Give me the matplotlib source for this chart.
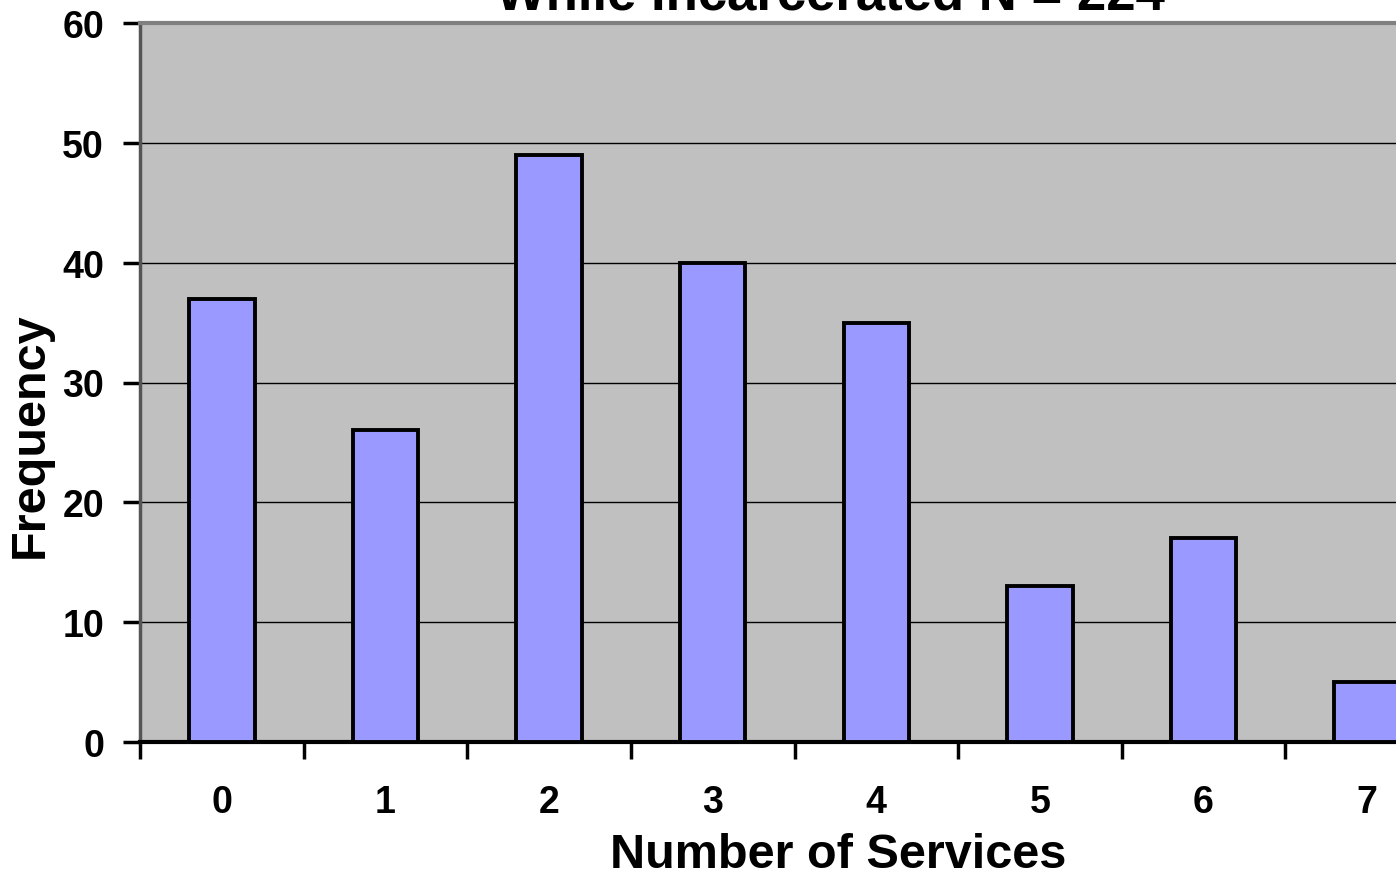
import matplotlib
matplotlib.use("Agg")
import matplotlib.pyplot as plt

categories = [0, 1, 2, 3, 4, 5, 6, 7]
frequency = [37, 26, 49, 40, 35, 13, 17, 5]
y_ticks = [0, 10, 20, 30, 40, 50, 60]
title = 'While Incarcerated N = 224'
x_label = 'Number of Services'
y_label = 'Frequency'

plt.rcParams['font.family'] = ['Liberation Sans', 'DejaVu Sans']

W, H = 1396, 878
fig = plt.figure(figsize=(W / 100, H / 100), dpi=100)
fig.patch.set_facecolor('white')
ax = fig.add_axes([140 / W, 1 - 743 / H, 1309 / W, (743 - 24) / H])
ax.set_facecolor('#C0C0C0')

ax.bar(categories, frequency, width=0.4, color='#9999FF',
       edgecolor='black', linewidth=2.8, zorder=3)

ax.set_xlim(-0.5, 7.5)
ax.set_ylim(0, 60)
ax.set_yticks(y_ticks)
ax.yaxis.grid(True, color='black', linewidth=1.0, zorder=1)
ax.set_axisbelow(True)

# category labels sit between boundary ticks
ax.set_xticks([c - 0.5 for c in categories] + [7.5])
ax.set_xticklabels([])
ax.set_xticks(categories, minor=True)
ax.set_xticklabels([str(c) for c in categories], minor=True)
ax.tick_params(axis='x', which='minor', length=0, pad=30, labelsize=27)
ax.tick_params(axis='x', which='major', direction='out', length=12,
               width=2.5, color='black')
ax.tick_params(axis='y', direction='out', length=12, width=2.5,
               labelsize=27, pad=14)
for lbl in ax.get_xticklabels(minor=True) + ax.get_yticklabels():
    lbl.set_fontweight('bold')

ax.spines['top'].set_color('#808080')
ax.spines['top'].set_linewidth(3)
ax.spines['right'].set_color('#808080')
ax.spines['right'].set_linewidth(3)
ax.spines['left'].set_color('#555555')
ax.spines['left'].set_linewidth(2.5)
ax.spines['bottom'].set_color('black')
ax.spines['bottom'].set_linewidth(3)

fig.text(43 / W, 1 - 435 / H, y_label, rotation=90, rotation_mode='anchor',
         ha='center', va='baseline', fontsize=35, fontweight='bold')
fig.text(838 / W, 1 - 868 / H, x_label, ha='center', va='baseline',
         fontsize=35, fontweight='bold')
fig.text(830 / W, 1 - 9 / H, title, ha='center', va='baseline',
         fontsize=38, fontweight='bold')

fig.savefig('out.png', dpi=100)
